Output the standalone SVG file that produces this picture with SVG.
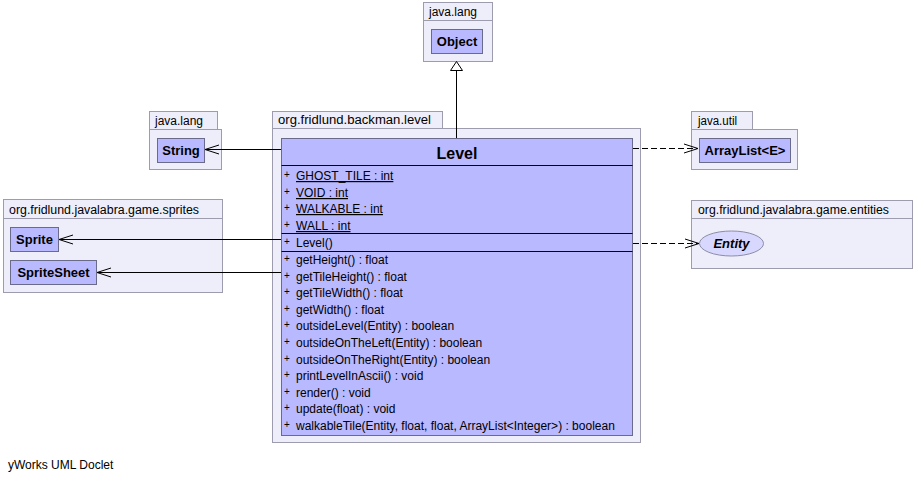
<svg xmlns="http://www.w3.org/2000/svg" width="915" height="481" viewBox="0 0 915 481">
<style>
.pkg{fill:#eeeefa;stroke:#9c9cae;stroke-width:1}
.cls{fill:#b9b9ff;stroke:#6a6a8a;stroke-width:1}
.sep{stroke:#000;stroke-width:1}
.plab{font-family:"Liberation Sans",Arial,sans-serif;font-size:12px;fill:#000}
.cname{font-family:"Liberation Sans",Arial,sans-serif;font-size:13px;font-weight:bold;fill:#000}
.mem{font-family:"Liberation Sans",Arial,sans-serif;font-size:12px;fill:#000}
.plus{font-family:"Liberation Sans",Arial,sans-serif;font-size:10px;fill:#000}
.edge{fill:none;stroke:#000;stroke-width:1}
.dash{fill:none;stroke:#000;stroke-width:1;stroke-dasharray:6,3}
</style>
<rect width="915" height="481" fill="#fff"/>

<g id="pkg-java-lang-object">
<rect class="pkg" x="423.5" y="2.5" width="69" height="18"/>
<rect class="pkg" x="423.5" y="20.5" width="69" height="41"/>
<text class="plab" x="429" y="16" textLength="48" lengthAdjust="spacingAndGlyphs">java.lang</text>
</g>
<g id="node-object">
<rect class="cls" x="431.5" y="29.5" width="51" height="24"/>
<text class="cname" x="457" y="46" text-anchor="middle">Object</text>
</g>

<g id="pkg-java-lang-string">
<rect class="pkg" x="149.5" y="111.5" width="68" height="18"/>
<rect class="pkg" x="149.5" y="129.5" width="72" height="40"/>
<text class="plab" x="155" y="125" textLength="48" lengthAdjust="spacingAndGlyphs">java.lang</text>
</g>
<g id="node-string">
<rect class="cls" x="157.5" y="138.5" width="47" height="24"/>
<text class="cname" x="181" y="155" text-anchor="middle">String</text>
</g>

<g id="pkg-sprites">
<rect class="pkg" x="3.5" y="199.5" width="219" height="19"/>
<rect class="pkg" x="3.5" y="218.5" width="219" height="74"/>
<text class="plab" x="9" y="214" textLength="190" lengthAdjust="spacingAndGlyphs">org.fridlund.javalabra.game.sprites</text>
</g>
<g id="node-sprite">
<rect class="cls" x="10.5" y="227.5" width="48" height="24"/>
<text class="cname" x="34.5" y="244" text-anchor="middle">Sprite</text>
</g>
<g id="node-spritesheet">
<rect class="cls" x="10.5" y="260.5" width="86" height="24"/>
<text class="cname" x="53.5" y="277" text-anchor="middle">SpriteSheet</text>
</g>

<g id="pkg-java-util">
<rect class="pkg" x="691.5" y="111.5" width="61" height="18"/>
<rect class="pkg" x="691.5" y="129.5" width="106" height="40"/>
<text class="plab" x="698" y="125" textLength="39" lengthAdjust="spacingAndGlyphs">java.util</text>
</g>
<g id="node-arraylist">
<rect class="cls" x="699.5" y="138.5" width="91" height="24"/>
<text class="cname" x="745" y="155" text-anchor="middle">ArrayList&lt;E&gt;</text>
</g>

<g id="pkg-entities">
<rect class="pkg" x="691.5" y="200.5" width="221" height="18"/>
<rect class="pkg" x="691.5" y="218.5" width="221" height="50"/>
<text class="plab" x="698" y="214" textLength="191" lengthAdjust="spacingAndGlyphs">org.fridlund.javalabra.game.entities</text>
</g>
<g id="node-entity">
<ellipse cx="731.5" cy="243.5" rx="32" ry="12.5" fill="#d8d8ff" stroke="#8c8ca8" stroke-width="1"/>
<text class="cname" x="731.5" y="248" text-anchor="middle" font-style="italic">Entity</text>
</g>

<g id="pkg-backman-level">
<rect class="pkg" x="272.5" y="111.5" width="170" height="17"/>
<rect class="pkg" x="272.5" y="128.5" width="368" height="314"/>
<text class="plab" x="278" y="124" textLength="153" lengthAdjust="spacingAndGlyphs">org.fridlund.backman.level</text>
</g>
<g id="node-level">
<rect class="cls" x="281.5" y="138.5" width="351" height="297"/>
<text x="457" y="159" text-anchor="middle" font-family="'Liberation Sans',Arial,sans-serif" font-size="16" font-weight="bold">Level</text>
<line class="sep" x1="281.5" y1="165.5" x2="632.5" y2="165.5"/>
<line class="sep" x1="281.5" y1="233.5" x2="632.5" y2="233.5"/>
<line class="sep" x1="281.5" y1="251.5" x2="632.5" y2="251.5"/>
<g class="mem">
<text class="plus" x="284" y="178">+</text><text x="296" y="180" text-decoration="underline">GHOST_TILE : int</text>
<text class="plus" x="284" y="195">+</text><text x="296" y="197" text-decoration="underline">VOID : int</text>
<text class="plus" x="284" y="211">+</text><text x="296" y="213" text-decoration="underline">WALKABLE : int</text>
<text class="plus" x="284" y="228">+</text><text x="296" y="230" text-decoration="underline">WALL : int</text>
<text class="plus" x="284" y="245">+</text><text x="296" y="247">Level()</text>
<text class="plus" x="284" y="262">+</text><text x="296" y="264">getHeight() : float</text>
<text class="plus" x="284" y="279">+</text><text x="296" y="281">getTileHeight() : float</text>
<text class="plus" x="284" y="295">+</text><text x="296" y="297">getTileWidth() : float</text>
<text class="plus" x="284" y="312">+</text><text x="296" y="314">getWidth() : float</text>
<text class="plus" x="284" y="328">+</text><text x="296" y="330">outsideLevel(Entity) : boolean</text>
<text class="plus" x="284" y="345">+</text><text x="296" y="347">outsideOnTheLeft(Entity) : boolean</text>
<text class="plus" x="284" y="362">+</text><text x="296" y="364">outsideOnTheRight(Entity) : boolean</text>
<text class="plus" x="284" y="378">+</text><text x="296" y="380">printLevelInAscii() : void</text>
<text class="plus" x="284" y="395">+</text><text x="296" y="397">render() : void</text>
<text class="plus" x="284" y="411">+</text><text x="296" y="413">update(float) : void</text>
<text class="plus" x="284" y="428">+</text><text x="296" y="430">walkableTile(Entity, float, float, ArrayList&lt;Integer&gt;) : boolean</text>
</g>
</g>

<g id="connectors">
<path class="edge" d="M456.5 138 V70"/>
<path d="M456.5 61.5 L450.5 70.5 L462.5 70.5 Z" fill="#fff" stroke="#000" stroke-width="1"/>
<path class="edge" d="M281 149.5 H205"/>
<path class="edge" d="M219 145 L205 149.5 L219 154"/>
<path class="edge" d="M281 239.5 H59"/>
<path class="edge" d="M73 235 L59 239.5 L73 244"/>
<path class="edge" d="M281 272.5 H97"/>
<path class="edge" d="M111 268 L97 272.5 L111 277"/>
<path class="dash" d="M633 148.5 H698"/>
<path class="edge" d="M684 144 L698 148.5 L684 153"/>
<path class="dash" d="M633 243.5 H699"/>
<path class="edge" d="M685 239 L699 243.5 L685 248"/>
</g>

<text x="8" y="469" font-family="'Liberation Sans',Arial,sans-serif" font-size="12">yWorks UML Doclet</text>
</svg>
